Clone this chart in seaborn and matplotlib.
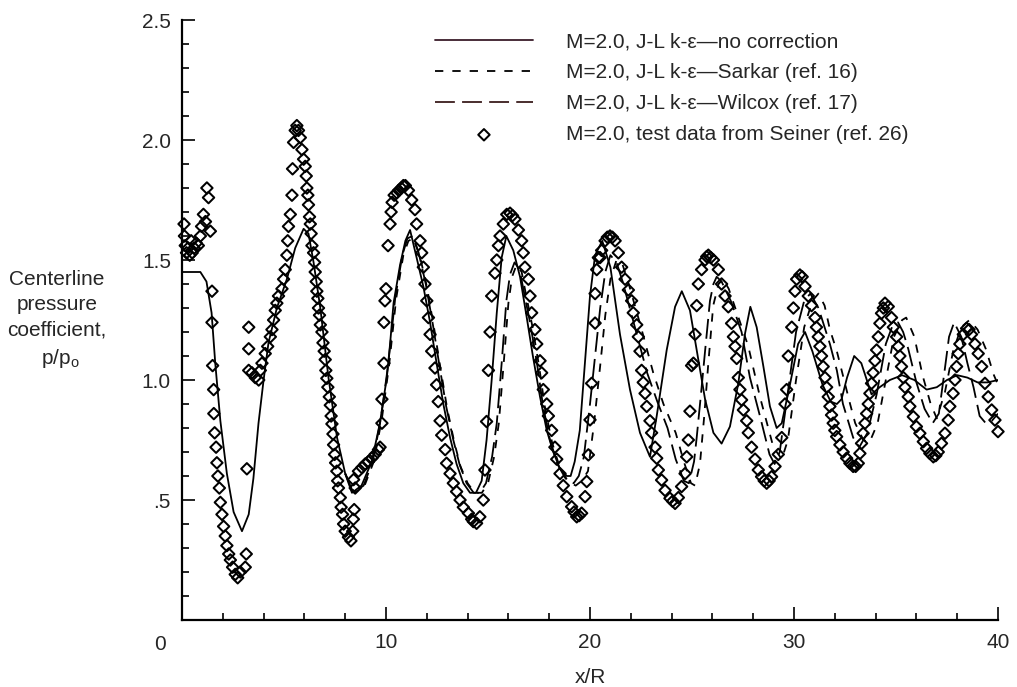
import matplotlib
matplotlib.use('Agg')
import matplotlib.pyplot as plt
import seaborn as sns
from matplotlib.ticker import MultipleLocator

# --- J-L k-eps, no correction (solid) ---
solid_x = [0.0, 0.9, 1.2, 1.45, 1.63, 1.88, 2.2, 2.53, 2.94, 3.27,
           3.5, 3.75, 4.0, 4.24, 4.65, 5.14, 5.55, 5.96, 6.2, 6.45,
           6.78, 7.18, 7.6, 8.0, 8.33, 8.8, 9.3, 9.7, 10.04, 10.2,
           10.37, 10.69, 10.95, 11.18, 11.5, 11.83, 12.16, 12.48, 12.81, 13.14,
           13.46, 13.79, 14.12, 14.41, 14.69, 14.93, 15.18, 15.43, 15.67, 15.9,
           16.24, 16.57, 16.9, 17.2, 17.55, 17.88, 18.2, 18.53, 18.86, 19.05,
           19.25, 19.5, 19.75, 20.0, 20.25, 20.6, 21.0, 21.47, 21.96, 22.45,
           22.94, 23.27, 23.76, 24.17, 24.5, 24.9, 25.23, 25.64, 26.05, 26.45,
           26.86, 27.27, 27.6, 27.86, 28.17, 28.5, 28.82, 29.15, 29.4, 29.8,
           30.2, 30.54, 30.9, 31.4, 31.8, 32.1, 32.33, 32.6, 32.95, 33.3,
           33.8, 34.2, 34.7, 35.3, 35.9, 36.5, 37.0, 37.5, 38.0, 38.5,
           39.0, 39.5, 40.0]
solid_y = [1.45, 1.45, 1.41, 1.28, 1.07, 0.83, 0.61, 0.45, 0.37, 0.44,
           0.59, 0.82, 1.0, 1.155, 1.30, 1.42, 1.55, 1.63, 1.61, 1.49,
           1.30, 1.01, 0.76, 0.61, 0.53, 0.56, 0.66, 0.82, 1.01, 1.15,
           1.32, 1.48, 1.58, 1.625, 1.51, 1.39, 1.24, 1.07, 0.90, 0.76,
           0.65, 0.57, 0.53, 0.53, 0.58, 0.75, 1.0, 1.28, 1.51, 1.60,
           1.54, 1.43, 1.26, 1.10, 0.93, 0.79, 0.70, 0.63, 0.60, 0.60,
           0.66, 0.79, 1.07, 1.35, 1.52, 1.58, 1.47, 1.19, 0.96, 0.78,
           0.68, 0.85, 1.125, 1.305, 1.37, 1.29, 1.125, 0.92, 0.78, 0.735,
           0.806, 0.986, 1.194, 1.305, 1.22, 1.056, 0.89, 0.80, 0.82, 0.98,
           1.15, 1.20, 1.12, 0.98, 0.91, 0.90, 0.92, 1.01, 1.10, 1.07,
           0.94, 0.97, 1.0, 1.02, 1.0, 0.96, 0.97, 1.0, 1.02, 1.01,
           0.99, 0.99, 1.0]

# --- Sarkar correction (short dashes) ---
sarkar_x = [8.0, 8.45, 8.95, 9.4, 9.8, 10.15, 10.5, 10.85, 11.1, 11.35,
            11.65, 12.0, 12.35, 12.65, 13.0, 13.35, 13.65, 14.0, 14.35, 14.7,
            15.0, 15.3, 15.53, 15.77, 16.0, 16.18, 16.4, 16.65, 16.83, 17.16,
            17.5, 17.8, 18.14, 18.5, 18.9, 19.3, 19.6, 19.9, 20.2, 20.5,
            20.75, 21.0, 21.3, 21.6, 21.9, 22.5, 23.1, 23.6, 24.2, 24.6,
            24.95, 25.15, 25.39, 25.6, 25.8, 26.04, 26.3, 26.53, 26.8, 27.2,
            27.76, 28.33, 28.99, 29.4, 29.7, 30.1, 30.5, 30.9, 31.2, 31.5,
            31.76, 32.1, 32.75, 33.0, 33.4, 33.7, 34.1, 34.5, 34.9, 35.3,
            35.5, 35.9, 36.3, 36.7, 37.0, 37.4, 37.8, 38.2, 38.6, 39.0,
            39.4, 39.8, 40.0]
sarkar_y = [0.61, 0.53, 0.56, 0.66, 0.84, 1.06, 1.34, 1.52, 1.58, 1.59,
            1.52, 1.39, 1.22, 1.06, 0.88, 0.74, 0.64, 0.57, 0.53, 0.53,
            0.57, 0.68, 0.82, 1.07, 1.32, 1.43, 1.48, 1.45, 1.37, 1.23,
            1.06, 0.88, 0.74, 0.64, 0.58, 0.56, 0.58, 0.62, 0.82, 1.06,
            1.27, 1.42, 1.50, 1.48, 1.40, 1.22, 1.03, 0.90, 0.78, 0.66,
            0.57, 0.56, 0.65, 0.85, 1.07, 1.31, 1.40, 1.42, 1.38, 1.28,
            1.14, 0.93, 0.72, 0.67, 0.75, 1.00, 1.22, 1.33, 1.36, 1.31,
            1.21, 1.12, 0.90, 0.82, 0.75, 0.74, 0.82, 1.00, 1.18, 1.25,
            1.26, 1.18, 1.02, 0.90, 0.84, 0.95, 1.12, 1.22, 1.25, 1.21,
            1.13, 1.02, 0.98]

# --- Wilcox correction (long dashes) ---
wilcox_x = [8.0, 8.4, 8.9, 9.35, 9.75, 10.1, 10.45, 10.8, 11.05, 11.3,
            11.6, 11.95, 12.3, 12.6, 12.95, 13.3, 13.6, 13.95, 14.3, 14.6,
            14.9, 15.2, 15.43, 15.67, 15.9, 16.08, 16.3, 16.55, 16.73, 17.06,
            17.4, 17.7, 18.04, 18.4, 18.8, 19.2, 19.45, 19.7, 20.0, 20.25,
            20.5, 20.75, 21.0, 21.3, 21.6, 22.2, 22.8, 23.3, 23.8, 24.2,
            24.6, 24.85, 25.1, 25.23, 25.45, 25.64, 25.88, 26.05, 26.21, 26.45,
            26.9, 27.43, 27.84, 28.33, 28.8, 29.05, 29.3, 29.7, 30.1, 30.5,
            30.8, 31.2, 31.76, 32.1, 32.4, 32.9, 33.2, 33.6, 34.05, 34.5,
            34.8, 35.1, 35.35, 35.6, 36.0, 36.4, 36.8, 37.1, 37.4, 37.6,
            37.85, 38.2, 38.5, 38.8, 39.1, 39.4, 39.7, 40.0]
wilcox_y = [0.61, 0.53, 0.56, 0.66, 0.84, 1.06, 1.34, 1.52, 1.59, 1.60,
            1.53, 1.40, 1.23, 1.07, 0.89, 0.75, 0.65, 0.57, 0.53, 0.53,
            0.57, 0.68, 0.82, 1.07, 1.33, 1.44, 1.49, 1.46, 1.38, 1.24,
            1.07, 0.89, 0.75, 0.65, 0.59, 0.57, 0.60, 0.68, 0.90, 1.10,
            1.30, 1.45, 1.52, 1.49, 1.41, 1.22, 1.03, 0.91, 0.80, 0.67,
            0.58, 0.57, 0.66, 0.76, 0.95, 1.12, 1.33, 1.40, 1.43, 1.41,
            1.33, 1.20, 1.01, 0.85, 0.69, 0.65, 0.70, 0.95, 1.20, 1.33,
            1.36, 1.30, 1.15, 1.04, 0.90, 0.76, 0.72, 0.78, 0.94, 1.15,
            1.22, 1.24, 1.20, 1.13, 0.99, 0.88, 0.82, 0.86, 1.05, 1.18,
            1.24, 1.18, 1.07, 0.97, 0.85, 0.82, 0.83, 0.86]

seiner_0_10 = [
    (0.10, 1.65), (0.12, 1.60), (0.16, 1.56), (0.22, 1.53), (0.30, 1.55), (0.38, 1.52),
    (0.45, 1.58), (0.50, 1.53), (0.60, 1.55), (0.70, 1.57), (0.80, 1.56), (0.90, 1.60),
    (0.96, 1.64), (1.05, 1.69), (1.15, 1.66), (1.22, 1.80), (1.30, 1.76), (1.39, 1.62),
    (1.47, 1.37), (1.47, 1.24), (1.50, 1.06), (1.55, 0.96), (1.56, 0.86), (1.60, 0.78),
    (1.67, 0.72), (1.71, 0.655), (1.76, 0.60), (1.83, 0.55), (1.88, 0.49), (1.96, 0.44),
    (2.04, 0.39), (2.12, 0.35), (2.20, 0.31), (2.29, 0.275), (2.37, 0.25), (2.48, 0.22),
    (2.61, 0.19), (2.73, 0.176), (2.86, 0.20), (3.10, 0.22), (3.15, 0.275), (3.18, 0.63),
    (3.27, 1.13), (3.27, 1.22), (3.27, 1.04), (3.43, 1.03), (3.59, 1.01), (3.76, 1.00),
    (3.84, 1.04), (3.92, 1.07), (4.08, 1.11), (4.20, 1.14), (4.33, 1.18), (4.41, 1.21),
    (4.49, 1.25), (4.57, 1.29), (4.65, 1.32), (4.73, 1.35), (4.90, 1.38), (4.98, 1.42),
    (5.06, 1.46), (5.14, 1.52), (5.18, 1.58), (5.22, 1.64), (5.31, 1.69), (5.39, 1.77),
    (5.42, 1.88), (5.47, 1.99), (5.55, 2.04), (5.63, 2.06), (5.71, 2.04), (5.80, 2.01),
    (5.88, 1.96), (5.96, 1.92), (6.04, 1.89), (6.09, 1.85), (6.12, 1.80), (6.17, 1.77),
    (6.20, 1.73), (6.25, 1.68), (6.29, 1.65), (6.33, 1.61), (6.37, 1.56), (6.45, 1.53),
    (6.50, 1.49), (6.53, 1.45), (6.58, 1.41), (6.61, 1.37), (6.66, 1.34), (6.69, 1.30),
    (6.74, 1.27), (6.78, 1.23), (6.86, 1.20), (6.91, 1.155), (6.97, 1.12), (7.02, 1.085),
    (7.05, 1.04), (7.10, 1.007), (7.15, 0.97), (7.22, 0.93), (7.27, 0.895), (7.31, 0.85),
    (7.35, 0.817), (7.40, 0.775), (7.43, 0.73), (7.48, 0.69), (7.53, 0.655), (7.59, 0.62),
    (7.63, 0.58), (7.67, 0.55), (7.76, 0.51), (7.80, 0.47), (7.87, 0.44), (7.92, 0.40),
    (8.00, 0.37), (8.16, 0.345), (8.28, 0.33), (8.37, 0.37), (8.40, 0.42), (8.44, 0.46),
    (8.49, 0.55), (8.41, 0.585), (8.65, 0.62), (8.82, 0.635), (8.98, 0.65), (9.14, 0.66),
    (9.31, 0.675), (9.47, 0.69), (9.63, 0.71), (9.71, 0.72), (9.80, 0.82), (9.80, 0.92),
    (9.90, 1.07), (9.90, 1.24), (9.95, 1.33), (10.0, 1.38), (10.10, 1.56), (10.20, 1.65),
    (10.25, 1.70), (10.30, 1.74), (10.40, 1.77), (10.53, 1.78), (10.62, 1.79), (10.75, 1.80),
]
seiner_10_20 = [
    (10.85, 1.81), (10.95, 1.81), (11.10, 1.79), (11.26, 1.75), (11.42, 1.71), (11.50, 1.65),
    (11.67, 1.58), (11.75, 1.53), (11.83, 1.47), (11.91, 1.40), (12.00, 1.33), (12.08, 1.26),
    (12.16, 1.19), (12.24, 1.12), (12.40, 1.05), (12.48, 0.98), (12.56, 0.91), (12.65, 0.83),
    (12.73, 0.77), (12.90, 0.71), (12.97, 0.653), (13.14, 0.61), (13.30, 0.57), (13.46, 0.535),
    (13.63, 0.50), (13.79, 0.47), (14.04, 0.445), (14.20, 0.42), (14.28, 0.41), (14.44, 0.403),
    (14.60, 0.43), (14.77, 0.50), (14.85, 0.625), (14.93, 0.827), (15.02, 1.04), (15.10, 1.20),
    (15.18, 1.35), (15.34, 1.445), (15.43, 1.50), (15.51, 1.56), (15.59, 1.60), (15.75, 1.65),
    (15.92, 1.69), (16.08, 1.695), (16.20, 1.685), (16.32, 1.67), (16.49, 1.625), (16.65, 1.58),
    (16.73, 1.53), (16.81, 1.47), (16.98, 1.42), (17.06, 1.35), (17.14, 1.28), (17.30, 1.21),
    (17.39, 1.15), (17.55, 1.08), (17.63, 1.03), (17.71, 0.96), (17.88, 0.90), (17.96, 0.85),
    (18.12, 0.79), (18.28, 0.72), (18.37, 0.67), (18.53, 0.61), (18.69, 0.56), (18.86, 0.514),
    (19.10, 0.472), (19.22, 0.45), (19.35, 0.43), (19.47, 0.435), (19.59, 0.445), (19.76, 0.514),
    (19.84, 0.577), (19.92, 0.688), (20.00, 0.834), (20.08, 0.986), (20.25, 1.237), (20.25, 1.36),
    (20.33, 1.46), (20.41, 1.51),
]
seiner_20_30 = [
    (20.49, 1.51), (20.57, 1.54), (20.74, 1.58), (20.85, 1.595), (20.98, 1.60), (21.10, 1.595),
    (21.23, 1.58), (21.39, 1.53), (21.55, 1.47), (21.72, 1.42), (21.88, 1.375), (22.04, 1.33),
    (22.12, 1.28), (22.29, 1.23), (22.37, 1.18), (22.45, 1.12), (22.53, 1.04), (22.61, 0.99),
    (22.70, 0.944), (22.78, 0.89), (22.94, 0.83), (23.02, 0.78), (23.19, 0.72), (23.27, 0.674),
    (23.35, 0.625), (23.51, 0.583), (23.68, 0.54), (23.92, 0.507), (24.05, 0.495), (24.17, 0.486),
    (24.33, 0.51), (24.49, 0.556), (24.66, 0.61), (24.74, 0.68), (24.82, 0.75), (24.90, 0.87),
    (24.98, 1.06), (25.07, 1.07), (25.15, 1.19), (25.23, 1.31), (25.31, 1.40), (25.47, 1.46),
    (25.64, 1.50), (25.72, 1.514), (25.80, 1.52), (25.92, 1.51), (26.05, 1.50), (26.29, 1.46),
    (26.45, 1.40), (26.62, 1.35), (26.78, 1.305), (26.94, 1.236), (27.03, 1.18), (27.11, 1.14),
    (27.19, 1.09), (27.27, 1.01), (27.35, 0.96), (27.43, 0.917), (27.52, 0.875), (27.68, 0.83),
    (27.76, 0.78), (27.92, 0.72), (28.09, 0.67), (28.25, 0.625), (28.41, 0.597), (28.54, 0.58),
    (28.66, 0.57), (28.78, 0.58), (28.90, 0.597), (29.07, 0.64), (29.23, 0.69), (29.40, 0.76),
    (29.56, 0.90), (29.64, 0.96), (29.72, 1.10), (29.89, 1.22), (29.97, 1.30), (30.05, 1.37),
    (30.13, 1.42),
]
seiner_30_40 = [
    (30.29, 1.4375), (30.40, 1.43), (30.54, 1.39), (30.70, 1.35), (30.86, 1.31), (31.03, 1.26),
    (31.10, 1.22), (31.19, 1.18), (31.27, 1.14), (31.35, 1.10), (31.43, 1.056), (31.52, 1.01),
    (31.60, 0.97), (31.68, 0.93), (31.76, 0.89), (31.84, 0.854), (31.92, 0.82), (32.00, 0.79),
    (32.09, 0.764), (32.25, 0.73), (32.41, 0.70), (32.58, 0.674), (32.74, 0.653), (32.90, 0.64),
    (33.02, 0.64), (33.15, 0.653), (33.23, 0.694), (33.31, 0.736), (33.39, 0.778), (33.48, 0.82),
    (33.56, 0.86), (33.64, 0.90), (33.72, 0.944), (33.80, 0.986), (33.88, 1.03), (33.97, 1.08),
    (34.05, 1.125), (34.13, 1.18), (34.21, 1.236), (34.29, 1.278), (34.38, 1.30), (34.46, 1.32),
    (34.62, 1.306), (34.78, 1.26), (34.87, 1.22), (35.03, 1.18), (35.11, 1.14), (35.19, 1.10),
    (35.27, 1.056), (35.36, 1.01), (35.44, 0.97), (35.60, 0.93), (35.68, 0.89), (35.85, 0.847),
    (36.00, 0.806), (36.17, 0.778), (36.34, 0.743), (36.50, 0.715), (36.66, 0.694), (36.83, 0.68),
    (36.95, 0.685), (37.07, 0.70), (37.23, 0.736), (37.40, 0.778), (37.56, 0.833), (37.64, 0.89),
    (37.80, 0.944), (37.89, 1.00), (37.97, 1.056), (38.05, 1.11), (38.13, 1.15), (38.30, 1.19),
    (38.46, 1.215), (38.58, 1.21), (38.70, 1.19), (38.87, 1.15), (39.03, 1.11), (39.20, 1.056),
    (39.36, 0.986), (39.52, 0.93), (39.69, 0.875), (39.85, 0.833), (40.00, 0.785),
]

legend_labels = [
    'M=2.0, J-L k-\u03b5\u2014no correction',
    'M=2.0, J-L k-\u03b5\u2014Sarkar (ref. 16)',
    'M=2.0, J-L k-\u03b5\u2014Wilcox (ref. 17)',
    'M=2.0, test data from Seiner (ref. 26)',
]
x_ticks = [0, 10, 20, 30, 40]
x_ticklabels = ['', '10', '20', '30', '40']
y_ticks = [0, 0.5, 1.0, 1.5, 2.0, 2.5]
y_ticklabels = ['', '.5', '1.0', '1.5', '2.0', '2.5']

seiner = seiner_0_10 + seiner_10_20 + seiner_20_30 + seiner_30_40
seiner_x = [p[0] for p in seiner]
seiner_y = [p[1] for p in seiner]

sns.set_style('ticks')
plt.rcParams['font.family'] = ['Liberation Sans', 'DejaVu Sans']
plt.rcParams['mathtext.fontset'] = 'custom'
plt.rcParams['mathtext.rm'] = 'Liberation Sans'
plt.rcParams['mathtext.it'] = 'Liberation Sans:italic'

W, H = 1017, 687
fig = plt.figure(figsize=(W / 100, H / 100), dpi=100)
ax = fig.add_axes([182 / W, 67 / H, 816 / W, 600 / H])

lw = 1.3
sns.lineplot(x=solid_x, y=solid_y, ax=ax, color='black', linewidth=lw,
             sort=False, estimator=None, label=legend_labels[0])
sns.lineplot(x=sarkar_x, y=sarkar_y, ax=ax, color='black', linewidth=lw,
             sort=False, estimator=None, linestyle=(0, (4.6, 5.0)),
             label=legend_labels[1])
sns.lineplot(x=wilcox_x, y=wilcox_y, ax=ax, color='black', linewidth=lw,
             sort=False, estimator=None, linestyle=(0, (11, 4.0)),
             label=legend_labels[2])
sns.scatterplot(x=seiner_x, y=seiner_y, ax=ax, marker='D', s=34,
                facecolor='none', edgecolor='black', linewidth=1.45,
                label=legend_labels[3], zorder=3, clip_on=False)
pts = ax.collections[-1]
pts.set_facecolor('none')
pts.set_edgecolor('black')

ax.set_xlim(0, 40)
ax.set_ylim(0, 2.5)
ax.set_xticks(x_ticks)
ax.set_xticklabels(x_ticklabels)
ax.set_yticks(y_ticks)
ax.set_yticklabels(y_ticklabels)
ax.xaxis.set_minor_locator(MultipleLocator(2))
ax.yaxis.set_minor_locator(MultipleLocator(0.1))
ax.tick_params(which='both', direction='in', width=1.2, color='black')
ax.tick_params(which='major', length=9.5, labelsize=15)
ax.tick_params(which='minor', length=5)
ax.tick_params(axis='x', pad=9)
ax.tick_params(axis='y', pad=8)
sns.despine(ax=ax)
for side in ['left', 'bottom']:
    ax.spines[side].set_linewidth(1.6)
    ax.spines[side].set_color('black')
ax.grid(False)

ax.set_xlabel('x/R', fontsize=15, labelpad=12)
ax.set_ylabel('')
fig.text(160 / W, 1 - 644 / H, '0', ha='center', va='center', fontsize=15)
fig.text(57 / W, 1 - 305 / H, 'Centerline\npressure\ncoefficient,',
         ha='center', va='center', fontsize=15, linespacing=1.42)
fig.text(60 / W, 1 - 358 / H, 'p/p$_{\\rm o}$', ha='center', va='center', fontsize=15)

handles, labels = ax.get_legend_handles_labels()
leg = ax.legend(handles, labels, loc='upper left',
                bbox_to_anchor=(435 / W, 1 - 32 / H), bbox_transform=fig.transFigure,
                frameon=False, fontsize=15, handlelength=4.7, handletextpad=1.6,
                labelspacing=0.58, borderpad=0, borderaxespad=0, scatterpoints=1)
leg_lines = leg.get_lines()
if leg_lines:
    leg_lines[0].set_color('#3a1c2a')
    if len(leg_lines) > 2:
        leg_lines[2].set_color('#3a1c1c')

fig.savefig('out.png', dpi=100)
